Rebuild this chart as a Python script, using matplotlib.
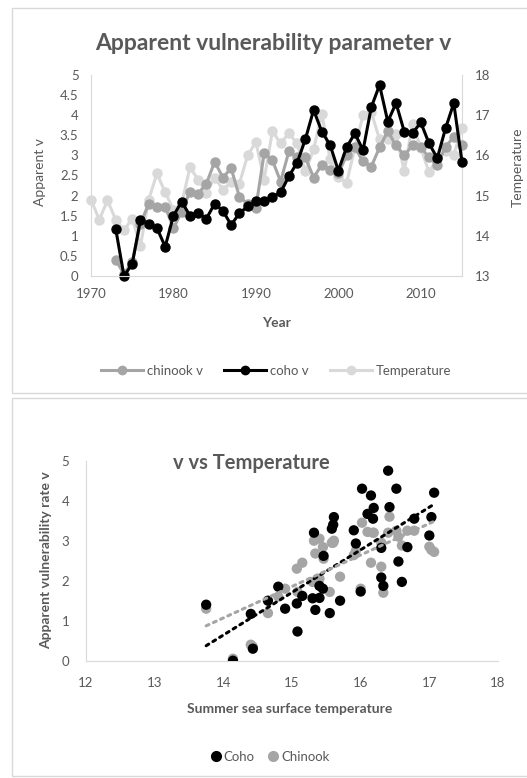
import matplotlib.pyplot as plt
import numpy as np
from matplotlib.lines import Line2D
from matplotlib.patches import Rectangle
from matplotlib.ticker import FuncFormatter

plt.rcParams['font.family'] = ['Lato', 'DejaVu Sans']

TXT = '#595959'
GRID = '#d9d9d9'
CHINOOK = '#a5a5a5'
TEMP = '#d9d9d9'

years = list(range(1970, 2016))

# summer sea surface temperature, 1970-2015
temperature = [14.9, 14.4, 14.88, 14.4, 14.14, 14.43, 13.75, 14.9, 15.55, 15.08,
               14.65, 14.8, 15.7, 15.4, 15.07, 15.45, 15.15, 15.34, 15.3, 16.0,
               16.33, 15.4, 16.6, 16.3, 16.55, 16.3, 15.6, 16.15, 17.03, 15.9,
               15.46, 15.32, 16.18, 17.0, 17.07, 16.4, 16.42, 16.52, 15.61, 16.78,
               16.19, 15.58, 15.93, 16.1, 16.02, 16.68]

# apparent vulnerability, no estimates before 1973
coho_v = [np.nan, np.nan, np.nan,
          1.17, 0.0, 0.3, 1.4, 1.3, 1.19, 0.73,
          1.5, 1.85, 1.5, 1.57, 1.43, 1.8, 1.62, 1.27, 1.56, 1.73,
          1.87, 1.87, 1.97, 2.08, 2.48, 2.82, 3.4, 4.13, 3.59, 3.26,
          2.62, 3.2, 3.55, 3.13, 4.2, 4.75, 3.84, 4.3, 3.59, 3.55,
          3.82, 3.3, 2.93, 3.67, 4.3, 2.84]

chinook_v = [np.nan, np.nan, np.nan,
             0.4, 0.05, 0.35, 1.3, 1.8, 1.72, 1.72,
             1.19, 1.6, 2.1, 2.05, 2.3, 2.84, 2.45, 2.68, 1.97, 1.8,
             1.7, 3.05, 2.88, 2.35, 3.1, 2.95, 2.95, 2.45, 2.77, 2.64,
             2.55, 3.0, 3.2, 2.85, 2.72, 3.2, 3.6, 3.25, 3.0, 3.25,
             3.2, 2.95, 2.75, 3.22, 3.45, 3.25]

W, H = 527, 778


def fx(px):
    return px / W


def fy(py):
    return 1 - py / H


fig = plt.figure(figsize=(W / 100, H / 100), dpi=100)
fig.patch.set_facecolor('white')

# chart frames
for top, bot in [(8, 393), (398, 776)]:
    fig.patches.append(Rectangle((fx(12), fy(bot)), fx(W - 12) + 0.01, (bot - top) / H,
                                 transform=fig.transFigure, fill=False,
                                 edgecolor=GRID, lw=1))

# ---- time series ----
ax = fig.add_axes([fx(91), fy(276), fx(371), 201 / H])
ax2 = ax.twinx()

ax2.plot(years, temperature, color=TEMP, marker='o', ms=6.5, lw=2.2, clip_on=False)
ax.plot(years, chinook_v, color=CHINOOK, marker='o', ms=6.5, lw=2.2, clip_on=False)
ax.plot(years, coho_v, color='black', marker='o', ms=6.5, lw=2.2, clip_on=False)
ax.set_zorder(ax2.get_zorder() + 1)
ax.patch.set_visible(False)

ax.set_xlim(1970, 2015)
ax.set_ylim(0, 5)
ax2.set_ylim(13, 18)
ax.set_xticks(range(1970, 2011, 10))
ax.set_yticks(np.arange(0, 5.01, 0.5))
ax.yaxis.set_major_formatter(FuncFormatter(lambda v, p: f'{v:g}'))
ax2.set_yticks(range(13, 19))

for a in (ax, ax2):
    for s in a.spines.values():
        s.set_visible(False)
    a.tick_params(length=0, labelsize=9.5, colors=TXT, pad=9)
ax.spines['left'].set_visible(True)
ax.spines['left'].set_color(GRID)
ax.spines['bottom'].set_visible(True)
ax.spines['bottom'].set_color(GRID)
ax2.spines['right'].set_visible(True)
ax2.spines['right'].set_color(GRID)

fig.text(fx(273), fy(43), 'Apparent vulnerability parameter v', ha='center', va='center',
         fontsize=16.5, fontweight='bold', color=TXT)
fig.text(fx(40), fy(172), 'Apparent v', rotation=90, ha='center', va='center',
         fontsize=10, color=TXT)
fig.text(fx(518), fy(167), 'Temperature', rotation=90, ha='center', va='center',
         fontsize=10, color=TXT)
fig.text(fx(276), fy(323), 'Year', ha='center', va='center', fontsize=10,
         fontweight='bold', color=TXT)

handles = [Line2D([], [], color=CHINOOK, marker='o', ms=6, lw=2.2),
           Line2D([], [], color='black', marker='o', ms=6, lw=2.2),
           Line2D([], [], color=TEMP, marker='o', ms=6, lw=2.2)]
fig.legend(handles, ['chinook v', 'coho v', 'Temperature'], loc='center',
           bbox_to_anchor=(fx(276), fy(371)), ncol=3, frameon=False, fontsize=9.5,
           handlelength=3.2, columnspacing=1.6, handletextpad=0.3, labelcolor=TXT)

# ---- v vs temperature ----
bx = fig.add_axes([fx(86), fy(660.7), fx(412), 200 / H])
temp_arr = np.array(temperature)
for vals, col, z in [(chinook_v, CHINOOK, 3), (coho_v, 'black', 3.5)]:
    v = np.array(vals)
    ok = ~np.isnan(v)
    bx.scatter(temp_arr[ok], v[ok], s=55, color=col, edgecolors='none', zorder=z)

for vals, col in [(coho_v, 'black'), (chinook_v, CHINOOK)]:
    v = np.array(vals)
    ok = ~np.isnan(v)
    k, b = np.polyfit(temp_arr[ok], v[ok], 1)
    xs = np.array([temp_arr[ok].min(), temp_arr[ok].max()])
    bx.plot(xs, k * xs + b, color=col, lw=2.2, linestyle=(0, (1, 1.6)),
            dash_capstyle='round', zorder=4)

bx.set_xlim(12, 18)
bx.set_ylim(0, 5)
bx.set_xticks(range(12, 19))
bx.set_yticks(range(0, 6))
for s in bx.spines.values():
    s.set_visible(False)
bx.spines['left'].set_visible(True)
bx.spines['left'].set_color(GRID)
bx.spines['bottom'].set_visible(True)
bx.spines['bottom'].set_color(GRID)
bx.tick_params(length=0, labelsize=9.5, colors=TXT, pad=12)

fig.text(fx(251), fy(463), 'v vs Temperature', ha='center', va='center',
         fontsize=14.5, fontweight='bold', color=TXT)
fig.text(fx(46), fy(560), 'Apparent vulnerability rate v', rotation=90, ha='center',
         va='center', fontsize=10, fontweight='bold', color=TXT)
fig.text(fx(290), fy(709), 'Summer sea surface temperature', ha='center', va='center',
         fontsize=10, fontweight='bold', color=TXT)

handles = [Line2D([], [], color='black', marker='o', ms=7, lw=0),
           Line2D([], [], color=CHINOOK, marker='o', ms=7, lw=0)]
fig.legend(handles, ['Coho', 'Chinook'], loc='center', bbox_to_anchor=(fx(270), fy(757)),
           ncol=2, frameon=False, fontsize=9.5, handlelength=0.8, handletextpad=0.2,
           columnspacing=1.0, labelcolor=TXT)

fig.savefig('out.png', dpi=100, facecolor='white')
